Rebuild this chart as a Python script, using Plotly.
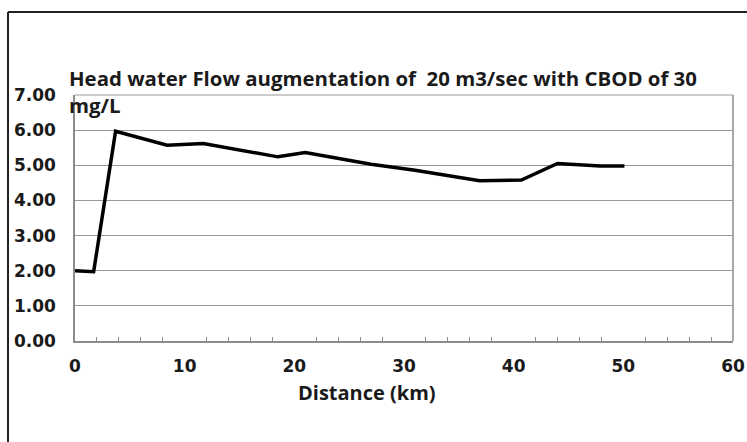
import plotly.graph_objects as go

distance_km = [0, 1.7, 3.7, 8.4, 11.7, 18.5, 21.0, 27.0, 31.0, 36.9, 40.7, 44.0, 47.9, 50.1]
do_mg_l = [2.00, 1.97, 5.97, 5.57, 5.62, 5.24, 5.36, 5.03, 4.86, 4.56, 4.58, 5.05, 4.98, 4.98]

title_text = "Head water Flow augmentation of&nbsp;&nbsp;20 m3/sec with CBOD of 30<br>mg/L"
x_title = "Distance (km)"

W, H = 747, 442
L, R, T, B = 75, 14, 95, 101
pw, ph = W - L - R, H - T - B

def px_x(p):
    return (p - L) / pw

def px_y(p):
    return (H - B - p) / ph

fig = go.Figure()
fig.add_trace(go.Scatter(
    x=distance_km, y=do_mg_l, mode="lines",
    line=dict(color="black", width=3.5),
    showlegend=False, hoverinfo="skip",
))

tfont = dict(family="DejaVu Sans", size=17, color="#1a1a1a", weight="bold")

fig.update_layout(
    width=W, height=H,
    margin=dict(l=L, r=R, t=T, b=B, autoexpand=False),
    paper_bgcolor="white", plot_bgcolor="white",
    xaxis=dict(
        range=[0, 60], tick0=0, dtick=10,
        showgrid=False, zeroline=False,
        showline=True, linecolor="#8c8c8c", linewidth=1.5,
        ticks="", tickfont=tfont,
        ticklabelstandoff=9,
        minor=dict(dtick=2, ticks="inside", ticklen=4, tickcolor="#8c8c8c", showgrid=False),
    ),
    yaxis=dict(
        range=[0, 7], tick0=0, dtick=1, tickformat=".2f",
        showgrid=True, gridcolor="#9a9a9a", gridwidth=1.2,
        zeroline=False,
        showline=True, linecolor="#8c8c8c", linewidth=1.5,
        ticks="", tickfont=tfont,
        ticklabelstandoff=14,
    ),
    shapes=[
        dict(type="line", xref="paper", yref="paper",
             x0=1, x1=1, y0=0, y1=1, line=dict(color="#8c8c8c", width=1.5)),
        dict(type="line", xref="paper", yref="paper",
             x0=0, x1=1, y0=1, y1=1, line=dict(color="#9a9a9a", width=1.2)),
        dict(type="line", xref="paper", yref="paper",
             x0=px_x(8), x1=px_x(8), y0=px_y(12), y1=px_y(H + 5), line=dict(color="#222222", width=2)),
        dict(type="line", xref="paper", yref="paper",
             x0=px_x(8), x1=px_x(W + 5), y0=px_y(12), y1=px_y(12), line=dict(color="#222222", width=2)),
    ],
    annotations=[
        dict(text=title_text, xref="paper", yref="paper",
             x=px_x(67), y=px_y(62), xanchor="left", yanchor="top", align="left",
             showarrow=False,
             font=dict(family="Open Sans", size=20.4, color="#1a1a1a", weight="bold")),
        dict(text=x_title, xref="paper", yref="paper",
             x=px_x(367), y=px_y(392), xanchor="center", yanchor="middle",
             showarrow=False,
             font=dict(family="Open Sans", size=20, color="#1a1a1a", weight="bold")),
    ],
)

fig.write_html("out.html", config={"displayModeBar": False},
               post_script="document.body.style.margin='0';document.body.style.padding='0';")
